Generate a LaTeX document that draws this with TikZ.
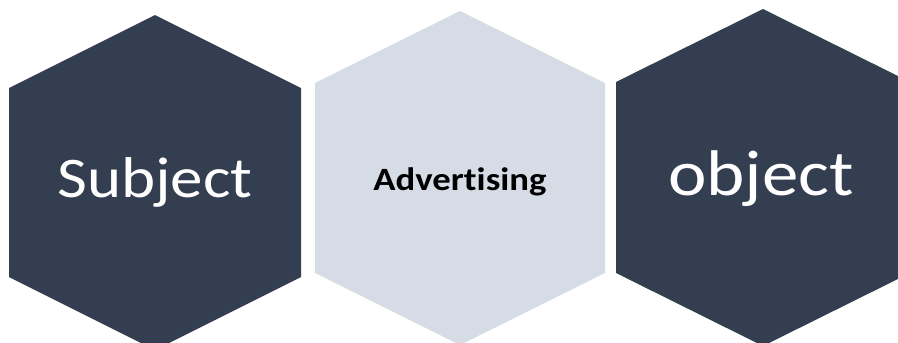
\documentclass[tikz,border=0pt]{standalone}
\usepackage{fontspec}
\setmainfont[Ligatures={NoCommon,NoContextual}]{Carlito}
\definecolor{hexdark}{HTML}{333E50}
\definecolor{hexlight}{HTML}{D6DCE5}
\tikzset{
  darkhex/.style={fill=hexdark, draw=none},
  lighthex/.style={fill=hexlight, draw=none},
  bigwhite/.style={text=white, anchor=base, inner sep=0pt},
  boldlabel/.style={text=black, anchor=base, inner sep=0pt, font=\bfseries\fontsize{32.5}{35}\selectfont},
}
\begin{document}
\begin{tikzpicture}[x=1pt,y=-1pt]
\useasboundingbox (0,0) rectangle (898,343);
\clip (0,0) rectangle (898,343);
\fill[white] (0,0) rectangle (898,343);
% hexagon 1
\path[darkhex] (155,15) -- (301,88) -- (301,277) -- (155,350) -- (9,277) -- (9,88) -- cycle;
% hexagon 2
\path[lighthex] (460,11) -- (605,83) -- (605,273) -- (460,345) -- (315,273) -- (315,83) -- cycle;
% hexagon 3
\path[darkhex] (763,9) -- (910,82) -- (910,273) -- (763,346) -- (616,273) -- (616,82) -- cycle;
\node[bigwhite] (subject) at (155,197) {\scalebox{1.13}[1]{\fontsize{57.5}{60}\selectfont Subject}};
\node[boldlabel] (advertising) at (460,190) {\scalebox{1.13}[1]{Advertising}};
\node[bigwhite] (object) at (761,195) {\scalebox{1.13}[1]{\fontsize{64.5}{68}\selectfont object}};
\end{tikzpicture}
\end{document}
